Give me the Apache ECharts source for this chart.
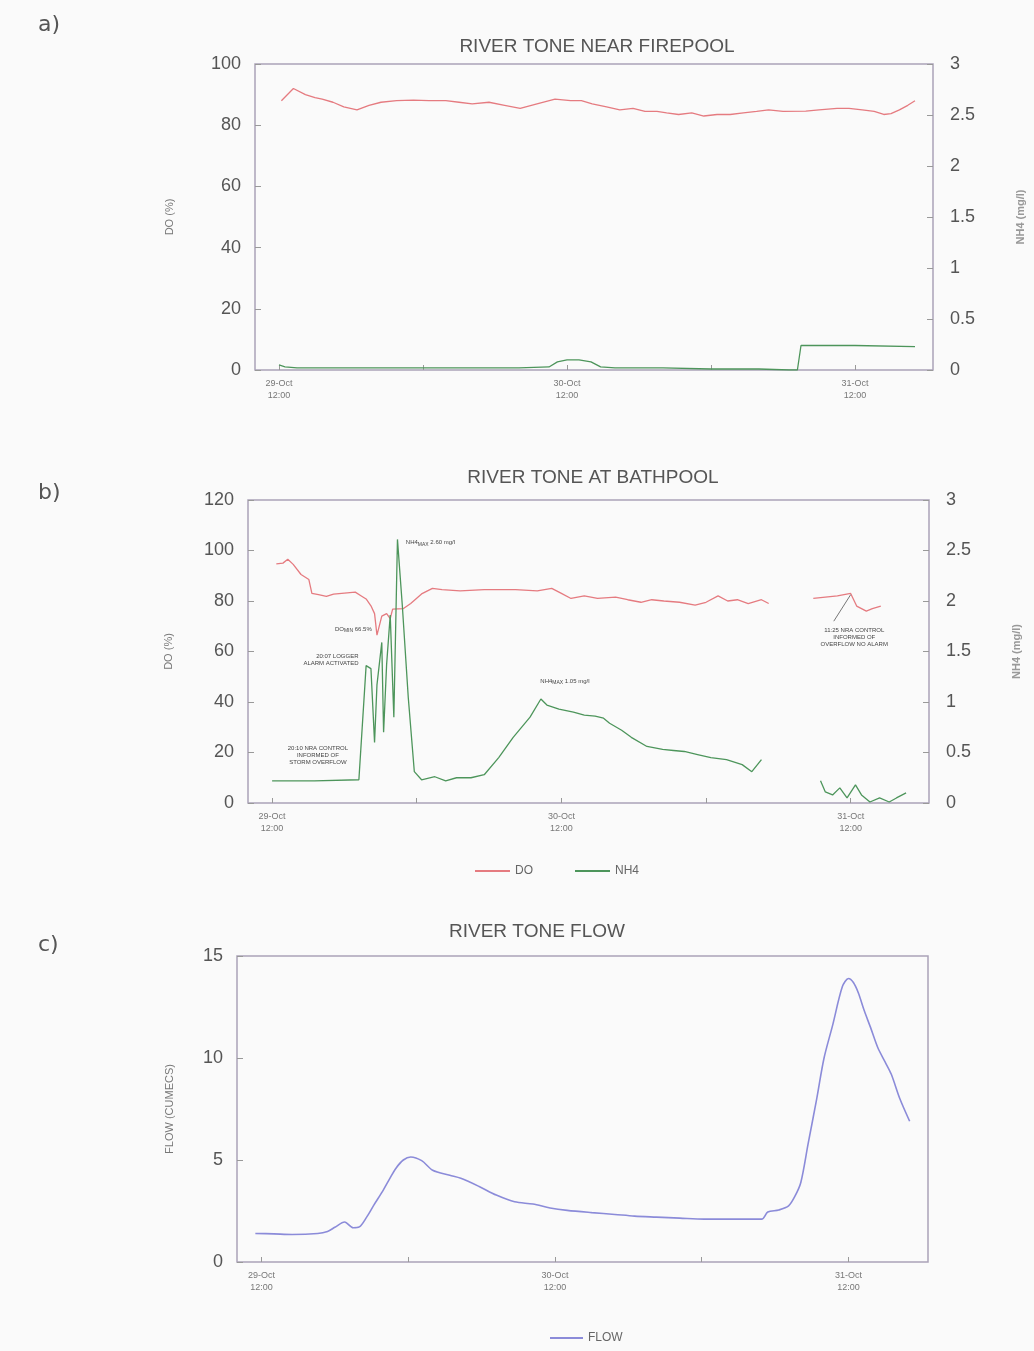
<!DOCTYPE html>
<html>
<head>
<meta charset="utf-8">
<title>River Tone</title>
<script src="https://cdn.jsdelivr.net/npm/echarts@6.0.0/dist/echarts.min.js"></script>
<style>
html, body { margin: 0; padding: 0; background: #fafafa; }
#chart { width: 1034px; height: 1351px; }
</style>
</head>
<body>
<div id="chart"></div>
<script>
// x values are hours after 29-Oct 12:00
var xTickHours = [0, 12, 24, 36, 48];
var xLabelHours = [0, 24, 48];
var xLabels = ['29-Oct\n12:00', '30-Oct\n12:00', '31-Oct\n12:00'];

// a) near Firepool
var doAHours = [0.2, 1.2, 2.2, 3.0, 3.6, 4.5, 5.4, 6.5, 7.5, 8.5, 9.8, 11.2, 12.5, 13.9, 15.0, 16.1, 17.5, 18.8, 20.1, 21.5, 23.0, 24.3, 25.2, 26.1, 27.3, 28.4, 29.5, 30.5, 31.5, 32.3, 33.3, 34.4, 35.4, 36.5, 37.6, 38.7, 39.8, 40.8, 42.0, 43.9, 45.0, 46.5, 47.5, 48.6, 49.6, 50.4, 51.0, 51.7, 52.4, 53.0];
var doAValues = [88, 92, 90, 89, 88.5, 87.5, 86, 85, 86.5, 87.5, 88, 88.2, 88, 88, 87.5, 87, 87.5, 86.5, 85.5, 87, 88.5, 88, 88, 87, 86, 85, 85.5, 84.5, 84.5, 84, 83.5, 84, 83, 83.5, 83.5, 84, 84.5, 85, 84.5, 84.6, 85, 85.5, 85.5, 85, 84.5, 83.5, 83.8, 85, 86.5, 88];
var nh4AHours = [0, 0.5, 1.5, 5, 10, 15, 20, 22.5, 23.2, 24, 25, 26, 26.8, 28, 32, 36, 40, 42.5, 43.2, 43.5, 44, 48, 53];
var nh4AValues = [0.05, 0.03, 0.02, 0.02, 0.02, 0.02, 0.02, 0.03, 0.08, 0.1, 0.1, 0.08, 0.03, 0.02, 0.02, 0.01, 0.01, 0.0, 0.0, 0.24, 0.24, 0.24, 0.23];

// b) at Bathpool (null = logger gap)
var doBHours = [0.35, 0.9, 1.3, 1.75, 2.4, 3.05, 3.3, 3.85, 4.5, 5.1, 6.0, 6.9, 7.4, 7.8, 8.2, 8.5, 8.7, 9.1, 9.5, 9.8, 10.0, 10.9, 11.5, 12.4, 13.3, 14.1, 15.6, 17.6, 20.2, 22.0, 23.2, 24.0, 24.8, 25.9, 27.0, 28.5, 29.5, 30.6, 31.5, 32.5, 33.8, 35.1, 36.0, 37.0, 37.8, 38.6, 39.5, 40.6, 41.2, 43.0, 44.9, 46.9, 48.0, 48.5, 49.3, 49.8, 50.5];
var doBValues = [94.7, 95, 96.5, 94.5, 90.5, 88.5, 83, 82.5, 81.8, 82.7, 83.1, 83.5, 82, 80.8, 78.1, 75, 66.5, 74, 75, 73, 76.8, 77, 79, 82.8, 85, 84.5, 84, 84.5, 84.5, 84, 85, 83, 81, 82, 81, 81.5, 80.5, 79.5, 80.5, 80, 79.5, 78.4, 79.5, 82, 80, 80.5, 79, 80.5, 79, null, 81, 82, 83, 78, 76, 77, 78];
var nh4BHours = [0, 3.5, 7.2, 7.3, 7.8, 8.2, 8.5, 8.7, 9.1, 9.25, 9.5, 9.8, 10.1, 10.4, 10.8, 11.3, 11.8, 12.4, 13.5, 14.4, 15.3, 16.5, 17.6, 18.8, 20.0, 21.4, 22.3, 22.8, 23.8, 25.0, 25.9, 26.8, 27.5, 28.0, 29.0, 29.8, 31.1, 32.4, 33.3, 34.2, 35.3, 36.4, 37.7, 39.0, 39.8, 40.6, 43.0, 45.5, 45.9, 46.5, 47.1, 47.7, 48.4, 48.9, 49.6, 50.4, 51.2, 51.8, 52.6];
var nh4BValues = [0.22, 0.22, 0.23, 0.23, 1.36, 1.33, 0.60, 1.17, 1.59, 0.70, 1.37, 1.86, 0.85, 2.61, 1.96, 1.04, 0.31, 0.23, 0.26, 0.22, 0.25, 0.25, 0.28, 0.45, 0.65, 0.85, 1.03, 0.97, 0.93, 0.9, 0.87, 0.86, 0.84, 0.79, 0.72, 0.65, 0.56, 0.53, 0.52, 0.51, 0.48, 0.45, 0.43, 0.38, 0.31, 0.43, null, 0.22, 0.11, 0.08, 0.15, 0.05, 0.18, 0.08, 0.01, 0.05, 0.01, 0.05, 0.10];

// c) flow
var flowHours = [-0.5, 1, 2.5, 4.6, 5.4, 6.0, 6.8, 7.5, 8.0, 8.6, 9.2, 9.9, 10.5, 11.0, 11.6, 12.2, 13.1, 14.0, 15.4, 16.3, 17.8, 19.2, 20.7, 22.2, 23.6, 25.0, 27.0, 28.9, 30.5, 32.3, 34.2, 36.2, 38.5, 40.9, 41.4, 42.3, 43.1, 43.6, 44.1, 44.7, 45.4, 46.0, 46.7, 47.5, 48.0, 48.4, 48.8, 49.3, 49.8, 50.4, 51.0, 51.5, 52.2, 53.0];
var flowValues = [1.4, 1.38, 1.35, 1.4, 1.5, 1.7, 1.96, 1.68, 1.72, 2.2, 2.8, 3.46, 4.1, 4.6, 5.0, 5.15, 4.97, 4.5, 4.25, 4.1, 3.7, 3.28, 2.95, 2.84, 2.65, 2.53, 2.42, 2.33, 2.25, 2.2, 2.15, 2.1, 2.1, 2.1, 2.45, 2.55, 2.75, 3.2, 3.9, 5.8, 8.0, 10.0, 11.6, 13.5, 13.9, 13.7, 13.2, 12.3, 11.5, 10.5, 9.8, 9.2, 8.0, 6.9];

var FONT = "'Liberation Sans', Arial, sans-serif";
var DO_COLOR = '#e57b80';
var NH4_COLOR = '#4d955b';
var FLOW_COLOR = '#8b8bd9';
var TEXT = '#555';

function pairs(hours, values) {
  return hours.map(function (h, i) { return [h, values[i]]; });
}

function xAxisFor(gridIndex) {
  return {
    type: 'value',
    gridIndex: gridIndex,
    min: -2,
    max: 54.5,
    axisLine: { show: false, onZero: false },
    splitLine: { show: false },
    axisTick: {
      inside: true,
      length: 5,
      customValues: xTickHours,
      lineStyle: { color: '#999' }
    },
    axisLabel: {
      customValues: xLabelHours,
      fontFamily: FONT,
      fontSize: 9,
      lineHeight: 12,
      color: '#777',
      margin: 8,
      formatter: function (v) {
        return xLabels[xLabelHours.indexOf(v)];
      }
    }
  };
}

function yAxisFor(gridIndex, side, max, interval, name, gap, nameStyle) {
  return {
    type: 'value',
    gridIndex: gridIndex,
    position: side,
    min: 0,
    max: max,
    interval: interval,
    axisLine: { show: false, onZero: false },
    splitLine: { show: false },
    axisTick: { inside: true, length: 6, lineStyle: { color: '#999' } },
    axisLabel: {
      fontFamily: FONT,
      fontSize: 18,
      color: TEXT,
      margin: side === 'left' ? 14 : 17
    },
    name: name,
    nameLocation: 'middle',
    nameRotate: 90,
    nameGap: gap,
    nameTextStyle: nameStyle
  };
}

var leftName = { fontFamily: FONT, fontSize: 11, color: '#777' };
var rightName = { fontFamily: FONT, fontSize: 11, fontWeight: 'bold', color: '#999' };

var annot = {
  fontFamily: FONT,
  fontSize: 6,
  lineHeight: 7,
  color: '#444',
  rich: {
    s: { fontFamily: FONT, fontSize: 5, color: '#444', padding: [4, 0, 0, 0] }
  }
};

function note(coord, text, position, offset) {
  return {
    coord: coord,
    symbolSize: 0,
    label: Object.assign({ show: true, formatter: text, position: position, offset: offset || [0, 0], distance: 4 }, annot)
  };
}

var chart = echarts.init(document.getElementById('chart'));

var option = {
  animation: false,
  backgroundColor: '#fafafa',
  graphic: [
    { type: 'text', left: 38, top: 14, style: { text: 'a)', font: "22px 'DejaVu Sans'", fill: TEXT } },
    { type: 'text', left: 38, top: 482, style: { text: 'b)', font: "22px 'DejaVu Sans'", fill: TEXT } },
    { type: 'text', left: 38, top: 934, style: { text: 'c)', font: "22px 'DejaVu Sans'", fill: TEXT } },
    { type: 'text', x: 597, y: 47, style: { text: 'RIVER TONE NEAR FIREPOOL', font: "19px 'Liberation Sans'", fill: TEXT, textAlign: 'center', textVerticalAlign: 'middle' } },
    { type: 'text', x: 593, y: 478, style: { text: 'RIVER TONE AT BATHPOOL', font: "19px 'Liberation Sans'", fill: TEXT, textAlign: 'center', textVerticalAlign: 'middle' } },
    { type: 'text', x: 537, y: 932, style: { text: 'RIVER TONE FLOW', font: "19px 'Liberation Sans'", fill: TEXT, textAlign: 'center', textVerticalAlign: 'middle' } }
  ],
  legend: [
    {
      data: ['DO', 'NH4'],
      left: 470,
      top: 860,
      icon: 'rect',
      itemWidth: 35,
      itemHeight: 2,
      itemGap: 42,
      textStyle: { fontFamily: FONT, fontSize: 12, color: '#666' }
    },
    {
      data: ['FLOW'],
      left: 545,
      top: 1327,
      icon: 'rect',
      itemWidth: 33,
      itemHeight: 2,
      textStyle: { fontFamily: FONT, fontSize: 12, color: '#666' }
    }
  ],
  grid: [
    { left: 255, right: 99, top: 64, height: 306, show: true, borderColor: '#aaa3b8', borderWidth: 1.5 },
    { left: 248, right: 105, top: 500, height: 303, show: true, borderColor: '#aaa3b8', borderWidth: 1.5 },
    { left: 237, right: 106, top: 956, height: 306, show: true, borderColor: '#aaa3b8', borderWidth: 1.5 }
  ],
  xAxis: [xAxisFor(0), xAxisFor(1), xAxisFor(2)],
  yAxis: [
    yAxisFor(0, 'left', 100, 20, 'DO (%)', 80, leftName),
    yAxisFor(0, 'right', 3, 0.5, 'NH4 (mg/l)', 82, rightName),
    yAxisFor(1, 'left', 120, 20, 'DO (%)', 74, leftName),
    yAxisFor(1, 'right', 3, 0.5, 'NH4 (mg/l)', 82, rightName),
    yAxisFor(2, 'left', 15, 5, 'FLOW (CUMECS)', 62, leftName)
  ],
  series: [
    {
      name: 'DO', type: 'line', xAxisIndex: 0, yAxisIndex: 0,
      data: pairs(doAHours, doAValues), showSymbol: false,
      lineStyle: { color: DO_COLOR, width: 1.3 }, itemStyle: { color: DO_COLOR }
    },
    {
      name: 'NH4', type: 'line', xAxisIndex: 0, yAxisIndex: 1,
      data: pairs(nh4AHours, nh4AValues), showSymbol: false,
      lineStyle: { color: NH4_COLOR, width: 1.3 }, itemStyle: { color: NH4_COLOR }
    },
    {
      name: 'DO', type: 'line', xAxisIndex: 1, yAxisIndex: 2,
      data: pairs(doBHours, doBValues), showSymbol: false,
      lineStyle: { color: DO_COLOR, width: 1.3 }, itemStyle: { color: DO_COLOR },
      markPoint: {
        silent: true,
        data: [
          note([8.6, 66.5], 'DO{s|MIN} 66.5%', 'left', [0, -6]),
          note([48.3, 65.5], '11:25 NRA CONTROL\nINFORMED OF\nOVERFLOW NO ALARM', 'inside')
        ]
      },
      markLine: {
        silent: true,
        symbol: ['none', 'none'],
        label: { show: false },
        lineStyle: { color: '#777', width: 1, type: 'solid' },
        data: [[{ coord: [46.6, 72] }, { coord: [48, 82.5] }]]
      }
    },
    {
      name: 'NH4', type: 'line', xAxisIndex: 1, yAxisIndex: 3,
      data: pairs(nh4BHours, nh4BValues), showSymbol: false,
      lineStyle: { color: NH4_COLOR, width: 1.3 }, itemStyle: { color: NH4_COLOR },
      markPoint: {
        silent: true,
        data: [
          note([10.6, 2.58], 'NH4{s|MAX} 2.60 mg/l', 'right', [2, 0]),
          note([7.5, 1.36], '20:07 LOGGER\nALARM ACTIVATED', 'left', [0, -6]),
          note([3.8, 0.47], '20:10 NRA CONTROL\nINFORMED OF\nSTORM OVERFLOW', 'inside'),
          note([22.3, 1.03], 'NH4{s|MAX} 1.05 mg/l', 'inside', [24, -18])
        ]
      }
    },
    {
      name: 'FLOW', type: 'line', xAxisIndex: 2, yAxisIndex: 4,
      data: pairs(flowHours, flowValues), showSymbol: false, smooth: 0.3,
      lineStyle: { color: FLOW_COLOR, width: 1.6 }, itemStyle: { color: FLOW_COLOR }
    }
  ]
};

chart.setOption(option);
window.addEventListener('resize', function () {
  chart.resize();
});
</script>
</body>
</html>
